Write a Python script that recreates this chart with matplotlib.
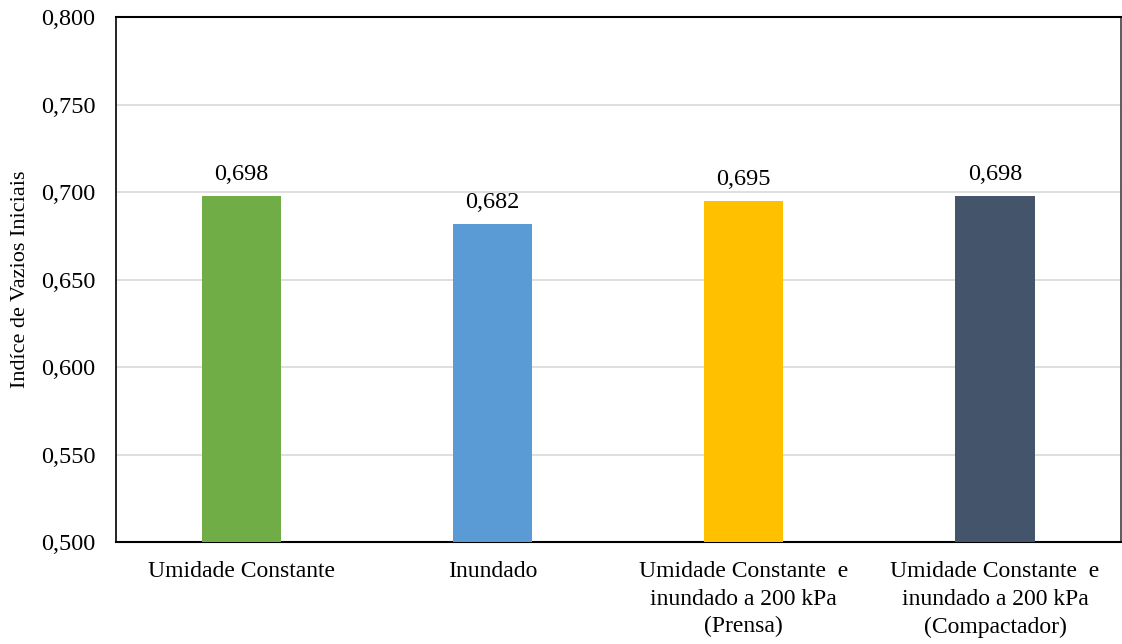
import matplotlib.pyplot as plt
import numpy as np

plt.rcParams['font.family'] = ['Liberation Serif', 'DejaVu Serif']

categorias = ["Umidade Constante",
              "Inundado",
              "Umidade Constante  e\ninundado a 200 kPa\n(Prensa)",
              "Umidade Constante  e\ninundado a 200 kPa\n(Compactador)"]
indice = [0.698, 0.682, 0.695, 0.698]
cores = ["#70AD47", "#5B9BD5", "#FFC000", "#44546A"]

fig = plt.figure(figsize=(11.22, 6.44), dpi=100)
ax = fig.add_axes([0.1034, 0.1583, 0.8953, 0.8153])

x = np.arange(len(categorias))
ax.bar(x, indice, width=0.315, color=cores, zorder=3)

for xi, v in zip(x, indice):
    ax.text(xi, v + 0.006, ("%.3f" % v).replace(".", ","), ha="center",
            va="bottom", fontsize=17.5)

ax.set_xlim(-0.5, len(categorias) - 0.5)
ax.set_ylim(0.5, 0.8)
yt = np.arange(0.5, 0.8001, 0.05)
ax.set_yticks(yt)
ax.set_yticklabels([("%.3f" % t).replace(".", ",") for t in yt], fontsize=17.5)
ax.set_xticks(x)
ax.set_xticklabels(categorias, fontsize=17, linespacing=1.4)
ax.tick_params(axis="y", length=0, pad=15)
ax.tick_params(axis="x", length=0, pad=14)
ax.yaxis.grid(True, color="#d9d9d9", linewidth=1.2, zorder=0)
ax.set_axisbelow(True)
for s in ax.spines.values():
    s.set_color("black")
    s.set_linewidth(1.2)
ax.spines["bottom"].set_linewidth(1.5)
ax.spines["top"].set_linewidth(1.5)
ax.spines["right"].set_color("#404040")
ax.set_ylabel("Indíce de Vazios Iniciais", fontsize=16, labelpad=8)

fig.savefig("out.png", dpi=100)
